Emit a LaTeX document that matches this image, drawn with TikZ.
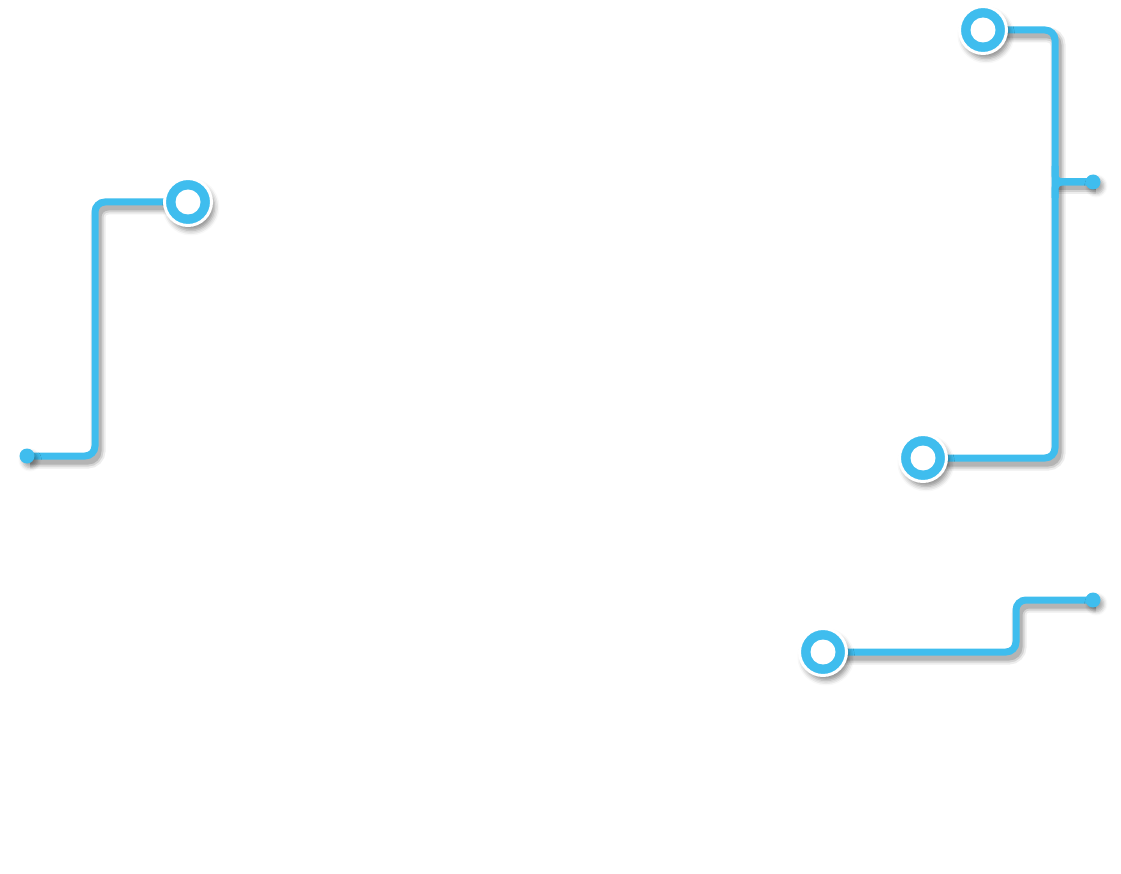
\documentclass[tikz,border=0pt]{standalone}
\usepackage{tikz}
\usetikzlibrary{shadows.blur, positioning}

\definecolor{wire}{HTML}{3FBDEE}

\begin{document}
\begin{tikzpicture}[x=1pt,y=-1pt]

		\tikzset{wire flat/.style={draw=wire, line width=7pt,
				rounded corners=10pt}}
		\tikzset{wire line/.style={wire flat,
				preaction={draw=black, opacity=0.07, line width=15pt,
					transform canvas={shift={(3pt,-5pt)}}},
				preaction={draw=black, opacity=0.11, line width=11pt,
					transform canvas={shift={(3pt,-5pt)}}},
				preaction={draw=black, opacity=0.15, line width=7pt,
					transform canvas={shift={(3pt,-5pt)}}}}}
		\tikzset{node port/.style={circle, fill=wire,
				draw=white, line width=3pt,
				minimum size=47pt, inner sep=0pt,
				blur shadow={shadow xshift=3pt, shadow yshift=-5pt,
					shadow blur radius=5pt, shadow opacity=45},
				path picture={\fill[white] (path picture bounding box.center) circle (12.5pt);}}}
		\tikzset{node tip/.style={circle, fill=wire,
				minimum size=15pt, inner sep=0pt,
				blur shadow={shadow xshift=3pt, shadow yshift=-4pt,
					shadow blur radius=4pt, shadow opacity=35}}}

	\useasboundingbox (0,0) rectangle (1121,874);

	% ports and tips
	\coordinate (PA) at (188,202);
	\coordinate (TA) at (27,456);
	\coordinate (PB) at (983,30);
	\coordinate (PC) at (923,458);
	\coordinate (TB) at (1093,182);
	\coordinate (PD) at (823,652);
	\coordinate (TD) at (1093,600);

	% bends
	\coordinate (KA) at (95,330);
	\coordinate (KB) at (1055,182);
	\coordinate (KD) at (1016,626);

	\draw[wire line] (PA) -| (KA) |- (TA);
	\draw[wire line] (PB) -| (KB) |- (PC);
	\draw[wire line] (KB) -- (TB);
	\draw[wire flat, rounded corners=7pt] ([yshift=-16pt]KB) |- (TB);
	\draw[wire flat, rounded corners=7pt] ([yshift=16pt]KB) |- (TB);
	\draw[wire line] (PD) -| (KD) |- (TD);

	\node[node tip] (tA) at (TA) {};
	\node[node tip] (tB) at (TB) {};
	\node[node tip] (tD) at (TD) {};

	\node[node port] (pA) at (PA) {};
	\node[node port] (pB) at (PB) {};
	\node[node port] (pC) at (PC) {};
	\node[node port] (pD) at (PD) {};
	\end{tikzpicture}
\end{document}
